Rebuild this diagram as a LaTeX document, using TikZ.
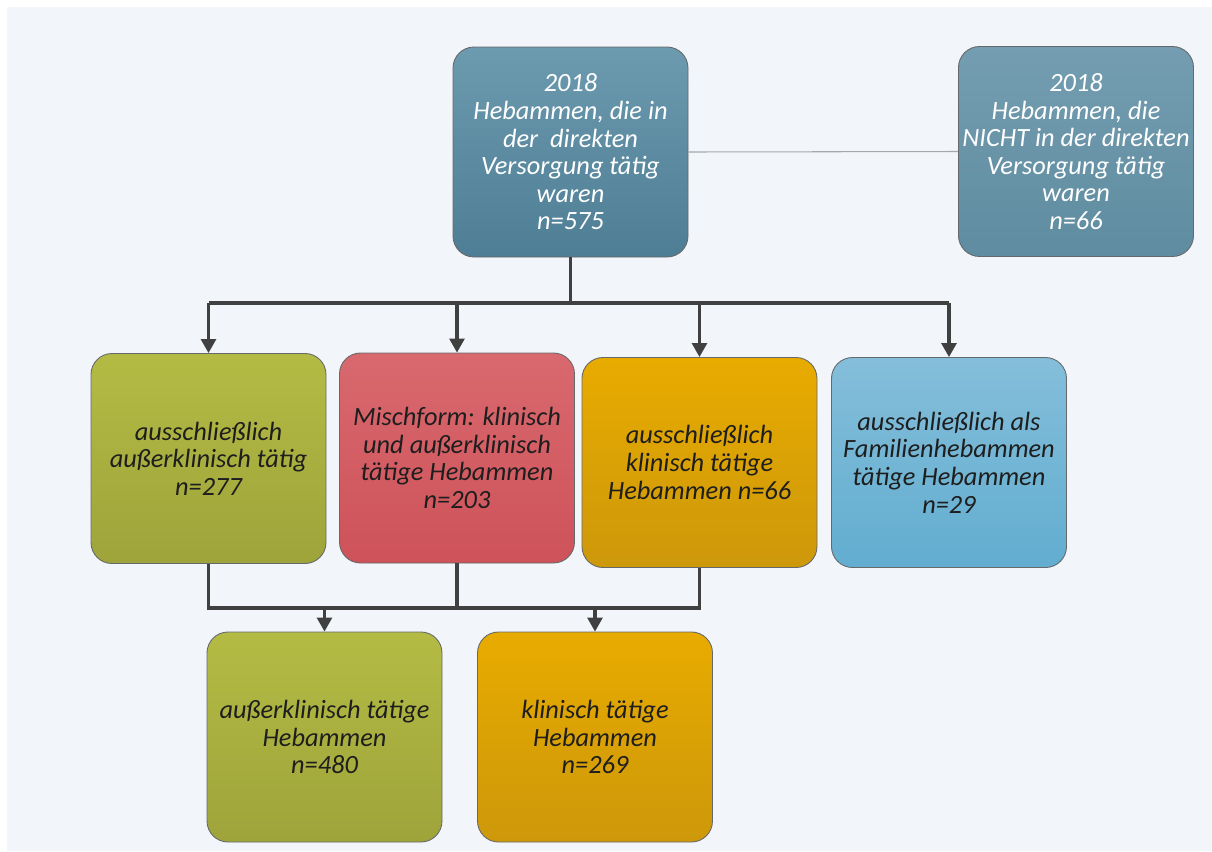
\documentclass[tikz,border=0pt]{standalone}
\usepackage{fontspec}
\setmainfont{Carlito}
\usetikzlibrary{arrows.meta}
\definecolor{hebBackground}{HTML}{F2F6FA}
\definecolor{hebTealTop}{HTML}{6C9AAF}
\definecolor{hebTealBottom}{HTML}{4E7E95}
\definecolor{hebGreyTealTop}{HTML}{749DB1}
\definecolor{hebGreyTealBottom}{HTML}{5F8CA0}
\definecolor{hebOliveTop}{HTML}{B4BB44}
\definecolor{hebOliveBottom}{HTML}{9EA43A}
\definecolor{hebRedTop}{HTML}{D8696E}
\definecolor{hebRedBottom}{HTML}{CE525A}
\definecolor{hebAmberTop}{HTML}{E8AB00}
\definecolor{hebAmberBottom}{HTML}{CD980A}
\definecolor{hebSkyTop}{HTML}{84BEDA}
\definecolor{hebSkyBottom}{HTML}{62ADD0}
\definecolor{hebLine}{HTML}{404040}
\definecolor{hebThinLine}{HTML}{A3A8AC}
\definecolor{hebBorder}{HTML}{66696B}
\definecolor{hebText}{HTML}{1E1E1E}

\begin{document}
\begin{tikzpicture}[every node/.style={font=\fontsize{15}{15.7}\selectfont\itshape, align=center},
            box/.style={rounded corners=0.42cm, draw=hebBorder, line width=0.5pt, minimum width=4.7cm, minimum height=4.2cm, inner sep=0pt, text=hebText},
            conn/.style={draw=hebLine, line width=1.8pt},
            arr/.style={conn, -{Triangle[width=8.5pt,length=8pt]}}]
            \useasboundingbox (0,0) rectangle (24.24,-17.02);
            \fill[hebBackground] (0.14,-0.14) rectangle (24.24,-17.02);
            \node[box, top color=hebTealTop, bottom color=hebTealBottom, text=white] (direkt) at (11.41,-3.04) {2018\\Hebammen, die in\\der~ direkten\\Versorgung tätig\\waren\\n=575};
            \node[box, top color=hebGreyTealTop, bottom color=hebGreyTealBottom, text=white] (nichtDirekt) at (21.52,-3.03) {2018\\Hebammen, die\\NICHT in der direkten\\Versorgung tätig\\waren\\n=66};
            \node[box, top color=hebOliveTop, bottom color=hebOliveBottom] (ausserkl) at (4.17,-9.17) {ausschließlich\\außerklinisch tätig\\n=277};
            \node[box, top color=hebRedTop, bottom color=hebRedBottom] (misch) at (9.14,-9.16) {Mischform: klinisch\\und außerklinisch\\tätige Hebammen\\n=203};
            \node[box, top color=hebAmberTop, bottom color=hebAmberBottom] (klin) at (13.99,-9.25) {ausschließlich\\klinisch tätige\\Hebammen n=66};
            \node[box, top color=hebSkyTop, bottom color=hebSkyBottom] (familie) at (18.98,-9.25) {ausschließlich als\\Familienhebammen\\tätige Hebammen\\n=29};
            \node[box, top color=hebOliveTop, bottom color=hebOliveBottom] (ausserklGes) at (6.49,-14.74) {außerklinisch tätige\\Hebammen\\n=480};
            \node[box, top color=hebAmberTop, bottom color=hebAmberBottom] (klinGes) at (11.9,-14.74) {klinisch tätige\\Hebammen\\n=269};
            \coordinate (split) at (11.41,-6.06);
            \coordinate (join) at (8.5,-12.16);
            \draw[hebThinLine, line width=0.6pt] (direkt.east) -- (nichtDirekt.west);
            \draw[conn] (direkt.south) -- (split);
            \draw[conn] (split -| ausserkl.north) -- (split -| familie.north);
            \draw[arr] (split -| ausserkl.north) -- (ausserkl.north);
            \draw[arr] (split -| misch.north) -- (misch.north);
            \draw[arr] (split -| klin.north) -- (klin.north);
            \draw[arr] (split -| familie.north) -- (familie.north);
            \draw[conn] (ausserkl.south) -- (ausserkl.south |- join) -- (klin.south |- join) -- (klin.south);
            \draw[conn] (misch.south) -- (misch.south |- join);
            \draw[arr] (join -| ausserklGes.north) -- (ausserklGes.north);
            \draw[arr] (join -| klinGes.north) -- (klinGes.north);
        \end{tikzpicture}
\end{document}
